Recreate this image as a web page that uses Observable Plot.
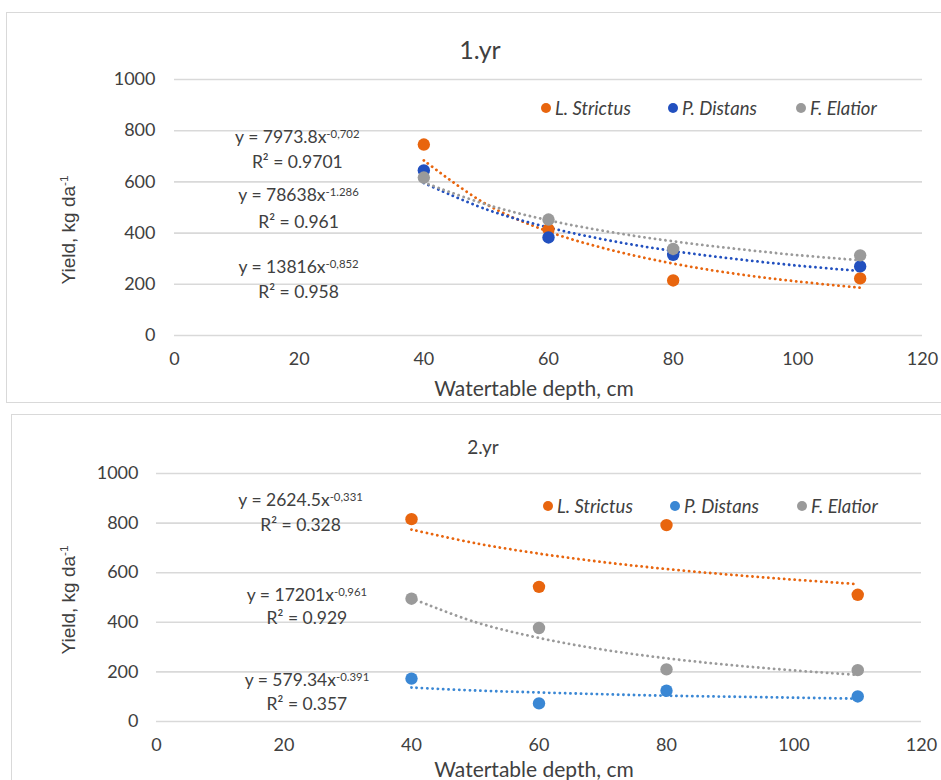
<!DOCTYPE html>
<html><head><meta charset="utf-8">
<script src="https://cdn.jsdelivr.net/npm/d3@7"></script>
<script src="https://cdn.jsdelivr.net/npm/@observablehq/plot@0.6"></script>
<style>
body{margin:0;background:#fff;}
#root{position:relative;width:941px;height:780px;overflow:hidden;font-family:Lato,sans-serif;color:#404040;}
.frame{position:absolute;border:1.5px solid #d9d9d9;box-sizing:border-box;}
.abs{position:absolute;white-space:nowrap;}
.svgwrap{position:absolute;left:0;}
sup{font-size:0.62em;line-height:0;vertical-align:0.6em;}
</style></head><body><div id="root"></div>
<script>
// ---------- data ----------
const seriesNames = ["L. Strictus", "P. Distans", "F. Elatior"];
const depths = [40, 60, 80, 110];
const xTicks = [0, 20, 40, 60, 80, 100, 120];
const yTicks = [0, 200, 400, 600, 800, 1000];

// Year 1 observed yields (kg/da)
const yr1Strictus = [746, 415, 215, 223];
const yr1Distans  = [645, 383, 315, 270];
const yr1Elatior  = [617, 453, 338, 313];
// Year 2 observed yields
const yr2Strictus = [816, 543, 792, 511];
const yr2Distans  = [173, 73, 124, 101];
const yr2Elatior  = [495, 377, 210, 207];

// Trend curves
const trendX = [40, 50, 60, 70, 80, 90, 100, 110];
const yr1TrendStrictus = [684, 513, 406, 334, 281, 241, 211, 187];
const yr1TrendDistans  = [596, 493, 422, 370, 330, 299, 273, 252];
const yr1TrendElatior  = [598, 512, 450, 404, 368, 339, 314, 294];
const yr2TrendStrictus = [774, 719, 677, 643, 615, 592, 572, 554];
const yr2TrendDistans  = [137, 125, 117, 110, 104, 100, 96, 92];
const yr2TrendElatior  = [497, 401, 337, 290, 255, 228, 206, 188];

// Equation annotations
const yr1Equations = ["y = 7973.8x^-0,702", "R² = 0.9701", "y = 78638x^-1.286", "R² = 0.961", "y = 13816x^-0,852", "R² = 0.958"];
const yr1EqX = [19.7, 19.7, 19.9, 19.9, 19.9, 19.9];
const yr1EqY = [773, 676, 547, 441, 266, 168];
const yr2Equations = ["y = 2624.5x^-0,331", "R² = 0.328", "y = 17201x^-0,961", "R² = 0.929", "y = 579.34x^-0.391", "R² = 0.357"];
const yr2EqX = [22.6, 22.6, 23.6, 23.6, 23.6, 23.6];
const yr2EqY = [890, 789, 507, 414, 164, 71];

// ---------- helpers ----------
const root = document.getElementById("root");
function el(html) { const d = document.createElement("div"); d.innerHTML = html; const n = d.firstElementChild; root.appendChild(n); return n; }

function buildPanel(cfg) {
  const obs = [];
  cfg.values.forEach((vals, si) => vals.forEach((v, i) => obs.push({series: seriesNames[si], x: depths[i], y: v})));
  const trends = [];
  cfg.trends.forEach((vals, si) => vals.forEach((v, i) => trends.push({series: seriesNames[si], x: trendX[i], y: v})));
  const eqs = cfg.eqText.map((t, i) => ({text: t, x: cfg.eqX[i], y: cfg.eqY[i]}));
  const colorScale = {domain: seriesNames, range: cfg.colors};

  const chart = Plot.plot({
    width: 941, height: cfg.height,
    marginLeft: cfg.mL, marginRight: cfg.mR, marginTop: cfg.mT, marginBottom: cfg.mB,
    style: {background: "transparent", fontFamily: "Lato, sans-serif", fontSize: "18px", color: "#404040"},
    x: {domain: [0, 120]},
    y: {domain: [0, 1000]},
    color: colorScale,
    marks: [
      Plot.ruleY(yTicks, {stroke: "#d9d9d9", strokeWidth: 1.6}),
      Plot.axisX({ticks: xTicks, tickSize: 0, tickPadding: 17, label: null, fill: "#404040", fontSize: 18, tickFormat: d => String(d)}),
      Plot.axisY({ticks: yTicks, tickSize: 0, tickPadding: cfg.yPad, label: null, fill: "#404040", fontSize: 18, tickFormat: d => String(d)}),
      Plot.line(trends, {x: "x", y: "y", z: "series", stroke: "series", strokeWidth: 2.8, strokeDasharray: "0.1,5.2", strokeLinecap: "round", curve: "catmull-rom"}),
      Plot.dot(obs, {x: "x", y: "y", fill: "series", r: 6.2}),
      Plot.text(eqs, {x: "x", y: "y", text: "text", fontSize: 17.5, fill: "#404040", textAnchor: "middle", lineAnchor: "middle", fontFamily: "Lato, sans-serif"})
    ]
  });
  // superscripts
  d3.select(chart).selectAll("text").each(function() {
    const t = this.textContent;
    if (t.includes("^")) {
      const [base, sup] = t.split("^");
      this.textContent = "";
      d3.select(this).append("tspan").text(base);
      d3.select(this).append("tspan").attr("dy", "-0.45em").attr("font-size", "0.65em").text(sup);
    }
  });
  const wrap = el(`<div class="svgwrap" style="top:${cfg.top}px"></div>`);
  wrap.appendChild(chart);

  // title
  el(`<div class="abs" style="left:${cfg.titleX}px;top:${cfg.titleY}px;transform:translate(-50%,-50%);font-size:${cfg.titleSize}px">${cfg.title}</div>`);
  // legend
  seriesNames.forEach((n, i) => {
    el(`<div class="abs" style="left:${cfg.legX[i] - 5}px;top:${cfg.legY - 11}px;height:22px;display:flex;align-items:center;">
      <span style="display:inline-block;width:10px;height:10px;border-radius:50%;background:${cfg.colors[i]};margin-right:4px"></span>
      <span style="font-style:italic;font-size:18.5px">${n}</span></div>`);
  });
  // axis labels
  el(`<div class="abs" style="left:534px;top:${cfg.xLabY}px;transform:translate(-50%,-50%);font-size:21px">Watertable depth, cm</div>`);
  el(`<div class="abs" style="left:69px;top:${cfg.yLabY}px;transform:translate(-50%,-50%) rotate(-90deg);font-family:'Liberation Sans',Arial,sans-serif;font-size:19px">Yield, kg da<sup>-1</sup></div>`);
}

// frames
el(`<div class="frame" style="left:6px;top:12px;width:960px;height:391px"></div>`);
el(`<div class="frame" style="left:11px;top:414px;width:960px;height:400px"></div>`);

buildPanel({
  top: 0, height: 402, mL: 174, mR: 19, mT: 79, mB: 67, yPad: 19,
  values: [yr1Strictus, yr1Distans, yr1Elatior],
  trends: [yr1TrendStrictus, yr1TrendDistans, yr1TrendElatior],
  eqText: yr1Equations, eqX: yr1EqX, eqY: yr1EqY,
  colors: ["#E8650E", "#2250BF", "#9A9A9A"],
  title: "1.yr", titleX: 480, titleY: 49, titleSize: 25,
  legX: [546, 673, 801], legY: 108,
  xLabY: 387, yLabY: 230
});

buildPanel({
  top: 415, height: 365, mL: 156, mR: 20, mT: 58, mB: 59, yPad: 18,
  values: [yr2Strictus, yr2Distans, yr2Elatior],
  trends: [yr2TrendStrictus, yr2TrendDistans, yr2TrendElatior],
  eqText: yr2Equations, eqX: yr2EqX, eqY: yr2EqY,
  colors: ["#E8650E", "#3A87D4", "#9A9A9A"],
  title: "2.yr", titleX: 483, titleY: 446, titleSize: 19,
  legX: [548, 675, 802], legY: 506,
  xLabY: 768, yLabY: 600
});
</script></body></html>
